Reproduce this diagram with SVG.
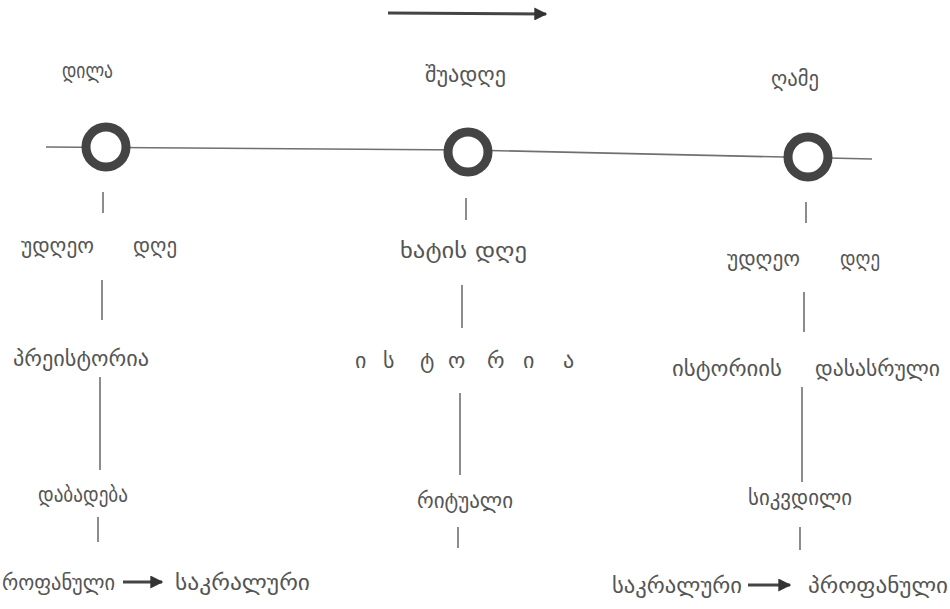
<svg xmlns="http://www.w3.org/2000/svg" width="950" height="609" viewBox="0 0 950 609">
<style>
.t{font-family:"DejaVu Sans","Noto Sans",sans-serif;font-size:22px;fill:#555}
.l{stroke:#707070;stroke-width:1.6;fill:none}
.c{fill:#fff;stroke:#444;stroke-width:9}
.a{stroke:#444;stroke-width:3;fill:none}
</style>
<defs>
<marker id="ah" viewBox="0 0 10 10" refX="9" refY="5" markerWidth="16" markerHeight="13" markerUnits="userSpaceOnUse" orient="auto">
<path d="M0,0 L10,5 L0,10 z" fill="#333"/>
</marker>
</defs>
<rect width="950" height="609" fill="#fff"/>
<g id="connectors">
<line class="a" x1="388" y1="13" x2="546" y2="14" stroke-width="2.5" marker-end="url(#ah)"/>
<polyline class="l" points="46,147 468,150 872,159"/>
<line class="l" x1="103" y1="192" x2="103" y2="213"/>
<line class="l" x1="102" y1="280" x2="102" y2="320"/>
<line class="l" x1="100" y1="377" x2="100" y2="470"/>
<line class="l" x1="98" y1="517" x2="98" y2="542"/>
<line class="l" x1="466" y1="198" x2="466" y2="220"/>
<line class="l" x1="462" y1="285" x2="462" y2="328"/>
<line class="l" x1="460" y1="393" x2="460" y2="475"/>
<line class="l" x1="458" y1="527" x2="458" y2="548"/>
<line class="l" x1="806" y1="202" x2="806" y2="223"/>
<line class="l" x1="804" y1="292" x2="804" y2="332"/>
<line class="l" x1="802" y1="387" x2="802" y2="482"/>
<line class="l" x1="800" y1="527" x2="800" y2="550"/>
<line class="a" x1="123" y1="582" x2="162" y2="582" marker-end="url(#ah)"/>
<line class="a" x1="748" y1="585" x2="790" y2="585" marker-end="url(#ah)"/>
</g>
<g id="node-morning">
<circle class="c" cx="106" cy="147" r="20"/>
<text class="t" x="62" y="78" textLength="51" lengthAdjust="spacingAndGlyphs">დილა</text>
</g>
<g id="node-midday">
<circle class="c" cx="468" cy="152" r="20"/>
<text class="t" x="425" y="82" textLength="81" lengthAdjust="spacingAndGlyphs">შუადღე</text>
</g>
<g id="node-night">
<circle class="c" cx="808" cy="157" r="20"/>
<text class="t" x="771" y="86" textLength="48" lengthAdjust="spacingAndGlyphs">ღამე</text>
</g>
<g id="col1">
<text class="t" x="21" y="253" textLength="73" lengthAdjust="spacingAndGlyphs">უდღეო</text>
<text class="t" x="133" y="253" textLength="44" lengthAdjust="spacingAndGlyphs">დღე</text>
<text class="t" x="13" y="366" textLength="136" lengthAdjust="spacingAndGlyphs">პრეისტორია</text>
<text class="t" x="38" y="502" textLength="90" lengthAdjust="spacingAndGlyphs">დაბადება</text>
<text class="t" x="2" y="590" textLength="113" lengthAdjust="spacingAndGlyphs">როფანული</text>
<text class="t" x="175" y="590" textLength="135" lengthAdjust="spacingAndGlyphs">საკრალური</text>
</g>
<g id="col2">
<text class="t" x="400" y="258" textLength="127" lengthAdjust="spacingAndGlyphs">ხატის დღე</text>
<text class="t" x="355 370 383 400 420 438 448 470 487 505 523 540 563" y="368">ი ს ტ ო რ ი ა</text>
<text class="t" x="417" y="508" textLength="96" lengthAdjust="spacingAndGlyphs">რიტუალი</text>
</g>
<g id="col3">
<text class="t" x="727" y="266" textLength="73" lengthAdjust="spacingAndGlyphs">უდღეო</text>
<text class="t" x="840" y="266" textLength="40" lengthAdjust="spacingAndGlyphs">დღე</text>
<text class="t" x="672" y="376" textLength="110" lengthAdjust="spacingAndGlyphs">ისტორიის</text>
<text class="t" x="815" y="376" textLength="125" lengthAdjust="spacingAndGlyphs">დასასრული</text>
<text class="t" x="748" y="505" textLength="104" lengthAdjust="spacingAndGlyphs">სიკვდილი</text>
<text class="t" x="612" y="593" textLength="130" lengthAdjust="spacingAndGlyphs">საკრალური</text>
<text class="t" x="808" y="593" textLength="140" lengthAdjust="spacingAndGlyphs">პროფანული</text>
</g>
</svg>
